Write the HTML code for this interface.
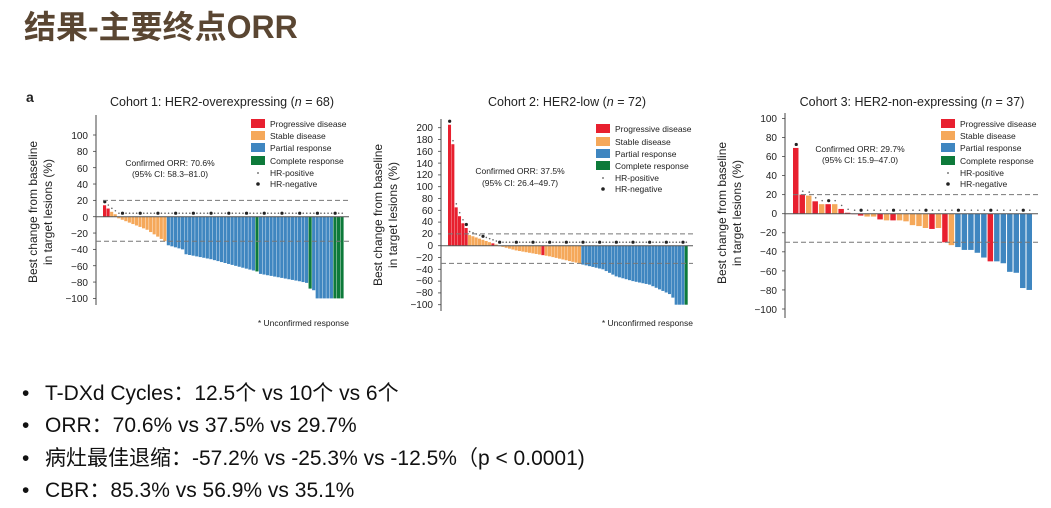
<!DOCTYPE html>
<html><head><meta charset="utf-8"><style>
body{margin:0;width:1051px;height:508px;background:#fff;overflow:hidden;position:relative;font-family:"Liberation Sans","Noto Sans CJK SC",sans-serif}
.t{position:absolute;left:24px;top:2px;font-size:32px;font-weight:bold;color:#5a4632;font-family:"Liberation Sans","Noto Sans CJK SC",sans-serif}
.b{position:absolute;left:22px;font-size:21px;color:#111;white-space:nowrap}
.b span{display:inline-block;width:23px}
svg text{font-family:"Liberation Sans",sans-serif;fill:#222}
</style></head><body>
<div class="t">结果-主要终点ORR</div>
<svg width="1051" height="508" style="position:absolute;left:0;top:0">
<text x="26" y="102" font-size="14" font-weight="bold" fill="#000">a</text>
<g id="p1"></g><g id="p2"></g><g id="p3"></g>
<!-- panel 1 text -->
<text x="222" y="106" font-size="12.5" text-anchor="middle">Cohort 1: HER2-overexpressing (<tspan font-style="italic">n</tspan> = 68)</text>
<g font-size="10" text-anchor="end">
<text x="88" y="139">100</text><text x="88" y="155">80</text><text x="88" y="172">60</text><text x="88" y="188">40</text><text x="88" y="204">20</text><text x="88" y="221">0</text><text x="88" y="237">−20</text><text x="88" y="253">−40</text><text x="88" y="270">−60</text><text x="88" y="286">−80</text><text x="88" y="302">−100</text>
</g>
<text transform="translate(37,212) rotate(-90)" font-size="12" text-anchor="middle">Best change from baseline</text>
<text transform="translate(52,212) rotate(-90)" font-size="12" text-anchor="middle">in target lesions (%)</text>
<text x="170" y="166" font-size="8.5" text-anchor="middle">Confirmed ORR: 70.6%</text>
<text x="170" y="177" font-size="8.5" text-anchor="middle">(95% CI: 58.3–81.0)</text>
<text x="349" y="326" font-size="8.5" text-anchor="end">* Unconfirmed response</text>
<!-- panel 2 text -->
<text x="567" y="106" font-size="12.5" text-anchor="middle">Cohort 2: HER2-low (<tspan font-style="italic">n</tspan> = 72)</text>
<g font-size="10" text-anchor="end">
<text x="433" y="131">200</text><text x="433" y="143">180</text><text x="433" y="155">160</text><text x="433" y="167">140</text><text x="433" y="178">120</text><text x="433" y="190">100</text><text x="433" y="202">80</text><text x="433" y="214">60</text><text x="433" y="225">40</text><text x="433" y="237">20</text><text x="433" y="249">0</text><text x="433" y="261">−20</text><text x="433" y="273">−40</text><text x="433" y="284">−60</text><text x="433" y="296">−80</text><text x="433" y="308">−100</text>
</g>
<text transform="translate(382,215) rotate(-90)" font-size="12" text-anchor="middle">Best change from baseline</text>
<text transform="translate(397,215) rotate(-90)" font-size="12" text-anchor="middle">in target lesions (%)</text>
<text x="520" y="174" font-size="8.5" text-anchor="middle">Confirmed ORR: 37.5%</text>
<text x="520" y="186" font-size="8.5" text-anchor="middle">(95% CI: 26.4–49.7)</text>
<text x="693" y="326" font-size="8.5" text-anchor="end">* Unconfirmed response</text>
<!-- panel 3 text -->
<text x="912" y="106" font-size="12.5" text-anchor="middle">Cohort 3: HER2-non-expressing (<tspan font-style="italic">n</tspan> = 37)</text>
<g font-size="10" text-anchor="end">
<text x="777" y="122">100</text><text x="777" y="141">80</text><text x="777" y="160">60</text><text x="777" y="179">40</text><text x="777" y="198">20</text><text x="777" y="217">0</text><text x="777" y="236">−20</text><text x="777" y="255">−40</text><text x="777" y="275">−60</text><text x="777" y="294">−80</text><text x="777" y="313">−100</text>
</g>
<text transform="translate(726,213) rotate(-90)" font-size="12" text-anchor="middle">Best change from baseline</text>
<text transform="translate(741,213) rotate(-90)" font-size="12" text-anchor="middle">in target lesions (%)</text>
<text x="860" y="152" font-size="8.5" text-anchor="middle">Confirmed ORR: 29.7%</text>
<text x="860" y="163" font-size="8.5" text-anchor="middle">(95% CI: 15.9–47.0)</text>
<!-- legends -->
<g font-size="8.5">
<rect x="251" y="119" width="14" height="9" fill="#e8202f"/><text x="270" y="127">Progressive disease</text>
<rect x="251" y="131" width="14" height="9" fill="#f5a85a"/><text x="270" y="139">Stable disease</text>
<rect x="251" y="143" width="14" height="9" fill="#3f86c0"/><text x="270" y="151">Partial response</text>
<rect x="251" y="156" width="14" height="9" fill="#0d7a3a"/><text x="270" y="164">Complete response</text>
<circle cx="258" cy="173" r="0.9" fill="#555"/><text x="270" y="176">HR-positive</text>
<circle cx="258" cy="184" r="1.8" fill="#222"/><text x="270" y="187">HR-negative</text>

<rect x="596" y="124" width="14" height="9" fill="#e8202f"/><text x="615" y="132">Progressive disease</text>
<rect x="596" y="137" width="14" height="9" fill="#f5a85a"/><text x="615" y="145">Stable disease</text>
<rect x="596" y="149" width="14" height="9" fill="#3f86c0"/><text x="615" y="157">Partial response</text>
<rect x="596" y="161" width="14" height="9" fill="#0d7a3a"/><text x="615" y="169">Complete response</text>
<circle cx="603" cy="178" r="0.9" fill="#555"/><text x="615" y="181">HR-positive</text>
<circle cx="603" cy="189" r="1.8" fill="#222"/><text x="615" y="192">HR-negative</text>

<rect x="941" y="119" width="14" height="9" fill="#e8202f"/><text x="960" y="127">Progressive disease</text>
<rect x="941" y="131" width="14" height="9" fill="#f5a85a"/><text x="960" y="139">Stable disease</text>
<rect x="941" y="143" width="14" height="9" fill="#3f86c0"/><text x="960" y="151">Partial response</text>
<rect x="941" y="156" width="14" height="9" fill="#0d7a3a"/><text x="960" y="164">Complete response</text>
<circle cx="948" cy="173" r="0.9" fill="#555"/><text x="960" y="176">HR-positive</text>
<circle cx="948" cy="184" r="1.8" fill="#222"/><text x="960" y="187">HR-negative</text>
</g>
</svg>
<div class="b" style="top:377px"><span>•</span>T-DXd Cycles：12.5个 vs 10个 vs 6个</div>
<div class="b" style="top:409px"><span>•</span>ORR：70.6% vs 37.5% vs 29.7%</div>
<div class="b" style="top:442px"><span>•</span>病灶最佳退缩：-57.2% vs -25.3% vs -12.5%（p &lt; 0.0001)</div>
<div class="b" style="top:474px"><span>•</span>CBR：85.3% vs 56.9% vs 35.1%</div>
<script>
var C={R:"#e8202f",O:"#f5a85a",B:"#3f86c0",G:"#0d7a3a"};
var NS="http://www.w3.org/2000/svg";
function el(g,t,a){var e=document.createElementNS(NS,t);for(var k in a)e.setAttribute(k,a[k]);g.appendChild(e);}
function panel(id,o){
 var g=document.getElementById(id);
 var y0=o.y0,s=o.s,n=o.v.length,w=(o.x2-o.x1)/n;
 el(g,"line",{x1:o.ax,y1:o.ytop,x2:o.ax,y2:o.ybot,stroke:"#444","stroke-width":1});
 for(var t=o.tmin;t<=o.tmax;t+=o.tstep)el(g,"line",{x1:o.ax-3,y1:y0-t*s,x2:o.ax,y2:y0-t*s,stroke:"#444","stroke-width":0.8});
 for(var i=0;i<n;i++){var v=o.v[i],x=o.x1+i*w,c=o.c[i];
  var y=v>=0?y0-v*s:y0,h=Math.abs(v)*s;
  el(g,"rect",{x:x,y:y,width:Math.max(w-o.gap,0.5),height:Math.max(h,0.5),fill:C[c]});
  var dy=(v>0?y0-v*s:y0)-3.5;
  var big=(i*7)%5==0;
  el(g,"circle",{cx:x+w/2,cy:dy,r:big?1.6:0.8,fill:big?"#222":"#666"});
 }
 el(g,"line",{x1:o.ax,y1:y0,x2:o.bx,y2:y0,stroke:"#555","stroke-width":1});
 el(g,"line",{x1:o.x1,y1:y0-20*s,x2:o.bx,y2:y0-20*s,stroke:"#777","stroke-width":1,"stroke-dasharray":"5,3"});
 el(g,"line",{x1:o.ax,y1:y0+30*s,x2:o.bx,y2:y0+30*s,stroke:"#777","stroke-width":1,"stroke-dasharray":"5,3"});
}
function interp(pts,n){var r=[];for(var i=0;i<n;i++){for(var k=0;k<pts.length-1;k++){if(i>=pts[k][0]&&i<=pts[k+1][0]){var f=(i-pts[k][0])/((pts[k+1][0]-pts[k][0])||1);r.push(pts[k][1]+f*(pts[k+1][1]-pts[k][1]));break;}}}return r;}
// panel1
var v1=interp([[0,14],[1,10],[2,6],[3,3],[4,-2],[8,-9],[12,-16],[17,-30],[18,-35],[22,-40],[23,-46],[30,-52],[36,-59],[43,-67],[44,-70],[55,-79],[57,-81],[58,-88],[59,-90],[60,-100],[67,-100]],68);
var c1=[];for(var i=0;i<68;i++)c1.push(i<2?"R":i<18?"O":(i==43||i==58||i>=65)?"G":"B");
panel("p1",{v:v1,c:c1,x1:103,x2:344,y0:216.7,s:0.817,ax:96,bx:349,ytop:115,ybot:305,tmin:-100,tmax:100,tstep:20,gap:0.4});
// panel2
var v2=interp([[0,205],[1,172],[2,65],[3,50],[4,38],[5,30],[6,18],[9,12],[12,6],[14,2],[16,-2],[20,-8],[27,-15],[28,-16],[30,-18],[39,-30],[40,-32],[46,-40],[50,-52],[55,-60],[60,-66],[66,-82],[67,-88],[68,-100],[71,-100]],72);
var c2=[];for(var i=0;i<72;i++)c2.push(i<6?"R":(i==13||i==28)?"R":i<40?"O":i==71?"G":"B");
panel("p2",{v:v2,c:c2,x1:448,x2:688,y0:245.7,s:0.59,ax:441,bx:693,ytop:119,ybot:311,tmin:-100,tmax:200,tstep:20,gap:0.3});
// panel3
var v3=[69,20,19,13,10,10,10,5,1,0,-2,-3,-3,-6,-7,-7,-7,-8,-12,-13,-15,-16,-15,-30,-33,-35,-38,-38,-41,-46,-50,-50,-52,-61,-62,-78,-80];
var c3="RROROROR ROOROROOOOORORO BBBBBRBBBBBB".replace(" ","R").replace(" ","O").split("");
c3=["R","R","O","R","O","R","O","R","R","R","R","O","O","R","O","R","O","O","O","O","O","R","O","R","O","B","B","B","B","B","R","B","B","B","B","B","B"];
panel("p3",{v:v3,c:c3,x1:793,x2:1033,y0:213.7,s:0.953,ax:785,bx:1038,ytop:113,ybot:318,tmin:-100,tmax:100,tstep:20,gap:1});
</script>
</body></html>
